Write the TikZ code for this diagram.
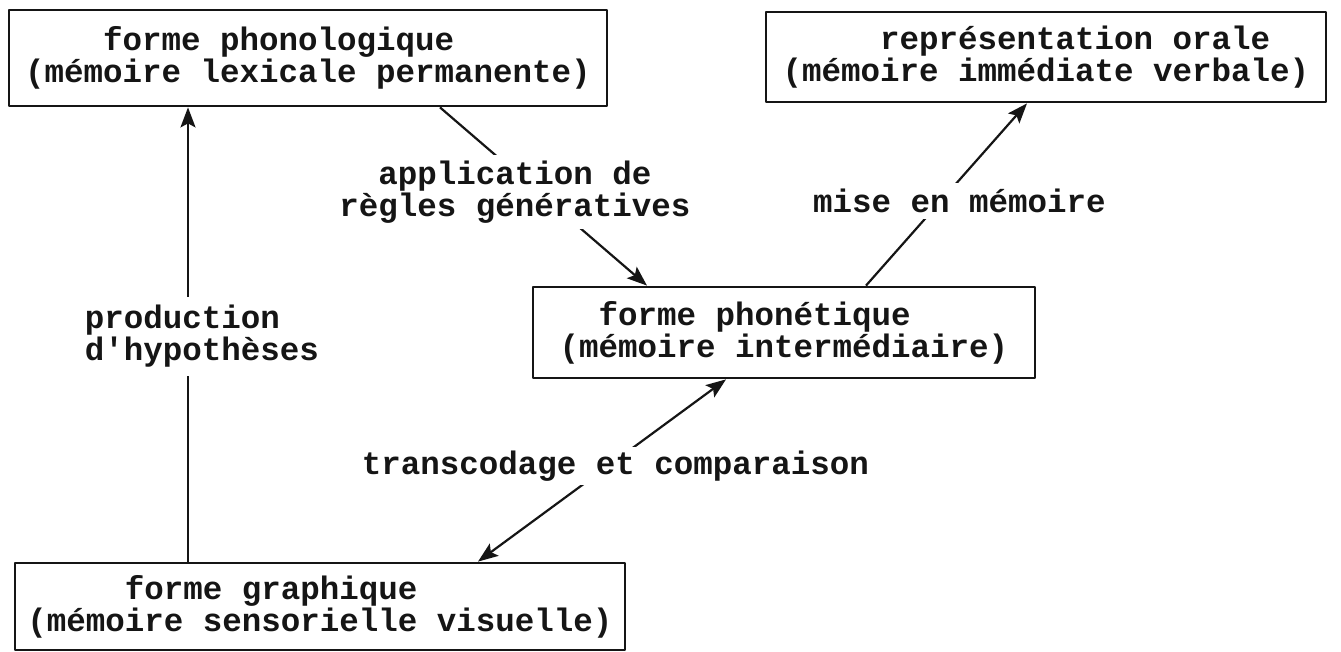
\documentclass[tikz,border=0pt]{standalone}
\usepackage{fontspec}
\usepackage{xcolor}
\usepackage{tikz}
\usetikzlibrary{arrows.meta}
\newfontfamily\typefont{Liberation Mono}
\definecolor{ink}{HTML}{151515}
\newcommand{\typind}[1]{\hspace*{#1\fontcharwd\font`\x}}
\tikzset{fig/.style={line join=round,>={Stealth[length=10pt,width=7.5pt,inset=2pt]},x=0.5pt,y=-0.5pt},
  typed/.style={font=\typefont\bfseries\fontsize{16.25}{16}\selectfont,text=ink},
  box/.style={typed,draw=ink,line width=1.4pt,align=left,inner sep=0pt},
  lbl/.style={typed,fill=white,inner sep=2pt},
  arr/.style={ink,line width=1.1pt,->}}

\begin{document}
\begin{tikzpicture}[fig]
  \useasboundingbox (0,0) rectangle (1341,652);
  \node[box,minimum width=299pt,minimum height=48pt] (phono) at (308,58)
    {\typind{4}forme phonologique\\(mémoire lexicale permanente)};
  \node[box,minimum width=280pt,minimum height=45pt] (orale) at (1046,57)
    {\typind{5}représentation orale\\(mémoire immédiate verbale)};
  \node[box,minimum width=251pt,minimum height=45.5pt] (phonet) at (784,332.5)
    {\typind{2}forme phonétique\\(mémoire intermédiaire)};
  \node[box,minimum width=305pt,minimum height=43.5pt] (graph) at (320,606.5)
    {\typind{5}forme graphique\\(mémoire sensorielle visuelle)};
  \coordinate (up) at (188,0);
  \draw[arr] (graph.north -| up) -- (phono.south -| up);
  \draw[arr] ([xshift=66pt]phono.south) -- ([xshift=-68.5pt]phonet.north);
  \draw[arr] ([xshift=41pt]phonet.north) -- ([xshift=-9.5pt]orale.south);
  \draw[arr,<->] ([xshift=79pt]graph.north) -- ([xshift=-29pt]phonet.south);
  \node[lbl,align=left,inner sep=4pt] (hyp) at (202,336.5) {production\\d'hypothèses};
  \node[lbl,align=center,inner sep=3pt] (regles) at (515,192) {application de\\règles génératives};
  \node[lbl,inner sep=3pt] (memo) at (959.5,201) {mise en mémoire};
  \node[lbl] (trans) at (615.5,466) {transcodage et comparaison};
\end{tikzpicture}
\end{document}
